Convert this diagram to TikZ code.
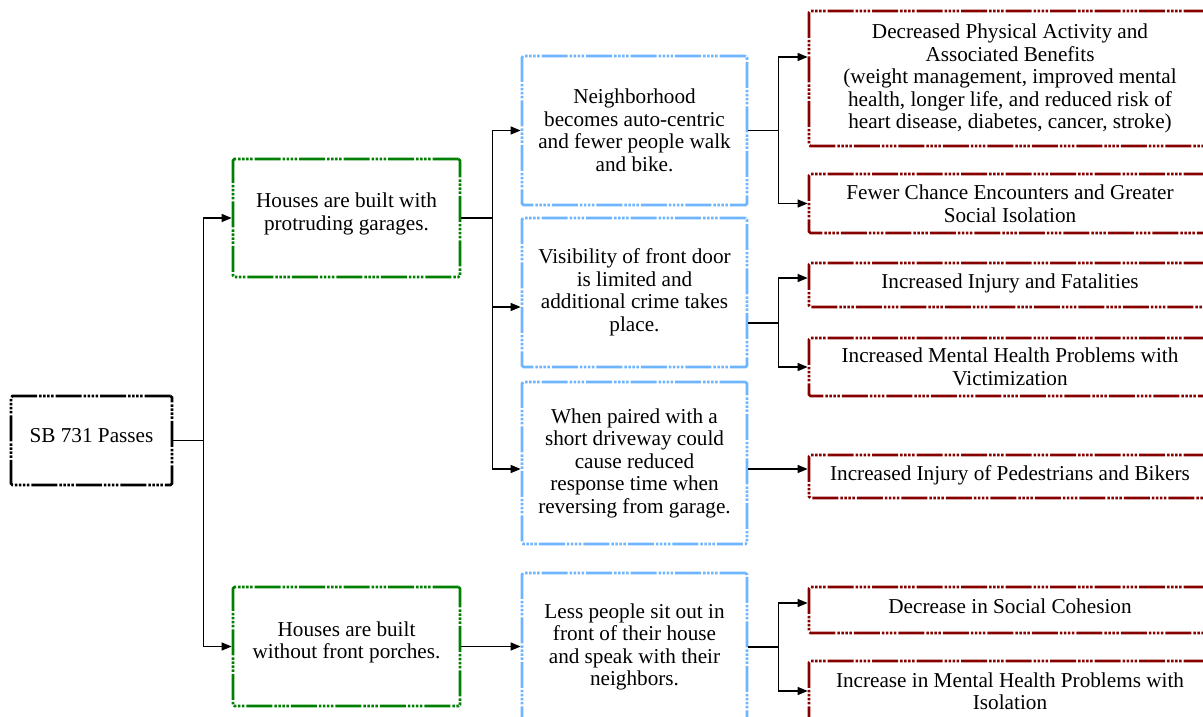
\documentclass[tikz,border=0pt]{standalone}
\usepackage{fontspec}
\setmainfont{Liberation Serif}
\usetikzlibrary{arrows.meta,calc}
\definecolor{bgreen}{RGB}{0,128,0}
\definecolor{bblue}{RGB}{110,180,255}
\definecolor{bred}{RGB}{135,0,0}
\tikzset{
 ddd/.style={dash pattern=on 26pt off 2pt on 2.5pt off 1.5pt on 2.5pt off 1.5pt on 2.5pt off 1.5pt on 2.5pt off 2pt},
 box/.style={draw, line width=2.7pt, ddd, rounded corners=1.5pt, align=center, inner sep=0pt, font=\fontsize{21.2}{22.5}\selectfont},
 blk/.style={box, draw=black},
 grn/.style={box, draw=bgreen},
 blu/.style={box, draw=bblue},
 rd/.style={box, draw=bred},
 conn/.style={draw=black, line width=1.3pt, -{Triangle[length=10pt,width=8pt]}},
 plain/.style={draw=black, line width=1.3pt},
}
\begin{document}
\begin{tikzpicture}[x=1pt,y=-1pt]
\useasboundingbox (0,0) rectangle (1203,717);
\clip (0,0) rectangle (1203,717);
% level 0
\node[blk, minimum width=161pt, minimum height=89pt, text depth=10.6pt] (sb) at (91.5,440.5) {SB 731 Passes};
% level 1
\node[grn, minimum width=227pt, minimum height=118pt, text depth=12.6pt] (g1) at (346.5,218) {Houses are built with\\protruding garages.};
\node[grn, minimum width=227pt, minimum height=119pt, text depth=13pt] (g2) at (346.5,646.5) {Houses are built\\without front porches.};
% level 2
\node[blu, minimum width=225pt, minimum height=149pt] (b1) at (634.5,130.5) {Neighborhood\\becomes auto-centric\\and fewer people walk\\and bike.};
\node[blu, minimum width=225pt, minimum height=149pt] (b2) at (634.5,292.5) {Visibility of front door\\is limited and\\additional crime takes\\place.};
\node[blu, minimum width=225pt, minimum height=162pt] (b3) at (634.5,463) {When paired with a\\short driveway could\\cause reduced\\response time when\\reversing from garage.};
\node[blu, minimum width=225pt, minimum height=148pt] (b4) at (634.5,647) {Less people sit out in\\front of their house\\and speak with their\\neighbors.};
% level 3
\node[rd, minimum width=402pt, minimum height=135pt] (r1) at (1010,78.5) {Decreased Physical Activity and\\Associated Benefits\\(weight management, improved mental\\health, longer life, and reduced risk of\\heart disease, diabetes, cancer, stroke)};
\node[rd, minimum width=402pt, minimum height=59pt] (r2) at (1010,203.5) {Fewer Chance Encounters and Greater\\Social Isolation};
\node[rd, minimum width=402pt, minimum height=44pt, text depth=8.6pt] (r3) at (1010,285) {Increased Injury and Fatalities};
\node[rd, minimum width=402pt, minimum height=58pt] (r4) at (1010,367) {Increased Mental Health Problems with\\Victimization};
\node[rd, minimum width=402pt, minimum height=43pt, text depth=6.6pt] (r5) at (1010,476.5) {Increased Injury of Pedestrians and Bikers};
\node[rd, minimum width=402pt, minimum height=46pt, text depth=7pt] (r6) at (1010,610) {Decrease in Social Cohesion};
\node[rd, minimum width=402pt, minimum height=60pt] (r7) at (1010,691) {Increase in Mental Health Problems with\\Isolation};
% connectors
\draw[plain] (sb.east) -- ++(30,0) coordinate (j0);
\draw[conn] (j0) |- (g1.west);
\draw[conn] (j0) |- (g2.west);
\draw[plain] (g1.east) -- ++(31,0) coordinate (j1);
\draw[conn] (j1) |- (b1.west);
\draw[conn] (j1) |- ($(b2.west)+(0,14.5)$);
\draw[conn] (j1) |- ($(b3.west)+(0,6)$);
\draw[conn] (g2.east) -- (b4.west |- g2.east);
\draw[plain] (b1.east) -- ++(30,0) coordinate (j2);
\draw[conn] (j2) |- ($(r1.west)+(0,-21.5)$);
\draw[conn] (j2) |- (r2.west);
\draw[plain] ($(b2.east)+(0,30.5)$) -- ++(30,0) coordinate (j3);
\draw[conn] (j3) |- ($(r3.west)+(0,-7)$);
\draw[conn] (j3) |- (r4.west);
\draw[conn] ($(b3.east)+(0,6)$) -- ($(r5.west)+(0,-7.5)$);
\draw[plain] (b4.east) -- ++(30,0) coordinate (j4);
\draw[conn] (j4) |- ($(r6.west)+(0,-7)$);
\draw[conn] (j4) |- (r7.west);
\end{tikzpicture}
\end{document}
